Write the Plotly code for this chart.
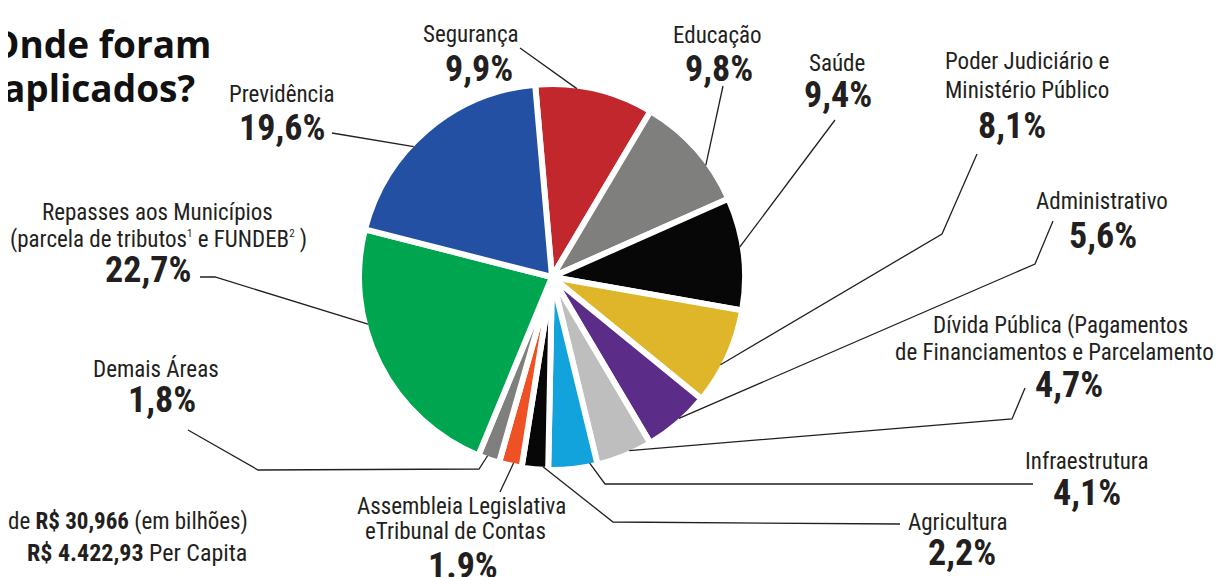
import math
import plotly.graph_objects as go

# ---------------- data ----------------
categories = [
    "Segurança", "Educação", "Saúde", "Poder Judiciário e Ministério Público",
    "Administrativo", "Dívida Pública (Pagamentos de Financiamentos e Parcelamento)",
    "Infraestrutura", "Agricultura", "Assembleia Legislativa e Tribunal de Contas",
    "Demais Áreas", "Repasses aos Municípios (parcela de tributos e FUNDEB)", "Previdência",
]
values = [9.9, 9.8, 9.4, 8.1, 5.6, 4.7, 4.1, 2.2, 1.9, 1.8, 22.7, 19.6]
pct_labels = ["9,9%", "9,8%", "9,4%", "8,1%", "5,6%", "4,7%", "4,1%", "2,2%",
              "1.9%", "1,8%", "22,7%", "19,6%"]
label_lines = [
    ["Segurança"],
    ["Educação"],
    ["Saúde"],
    ["Poder Judiciário e", "Ministério Público"],
    ["Administrativo"],
    ["Dívida Pública (Pagamentos", "de Financiamentos e Parcelamento)"],
    ["Infraestrutura"],
    ["Agricultura"],
    ["Assembleia Legislativa", "eTribunal de Contas"],
    ["Demais Áreas"],
    ["Repasses aos Municípios",
     "(parcela de tributos<sup><span style='font-size:11px'>1</span></sup> e FUNDEB<sup><span style='font-size:11px'>2</span></sup> )"],
    ["Previdência"],
]
title_lines = ["Onde foram", "aplicados?"]
total_line_1 = "de <b>R$ 30,966</b> (em bilhões)"
total_line_2 = "<b>R$ 4.422,93</b> Per Capita"

# ---------------- style / layout ----------------
colors = ["#C1272D", "#7F7F7E", "#070707", "#DFB52A", "#5B2C88", "#BEBEBE",
          "#12A3DD", "#070707", "#EE5124", "#7F7F7E", "#00A550", "#2350A3"]
OFF = 8                      # page body margin
W, H = 1222 - OFF, 577 - OFF  # figure size
CX, CY, R = 552, 277, 190     # pie centre / radius in page pixels
ROT = -5
TXT = "#231F20"
NARROW = "Roboto Condensed, Roboto, sans-serif"
NAME_SIZE = 23
PCT_SIZE = 36

# label layout (page-pixel positions of each text line's centre)
name_pos = [
    [(471, 34)], [(717, 36)], [(837, 64)],
    [(1027, 62), (1027, 91)], [(1102, 201)],
    [(1060, 325), (1058, 352)], [(1086, 461)], [(957, 522)],
    [(461, 506), (455, 531)], [(156, 369)],
    [(157, 212), (158, 239)], [(282, 94)],
]
pct_pos = [(479, 69), (719, 69), (838, 95), (1012, 126), (1103, 236), (1069, 385),
           (1087, 493), (962, 553), (463, 566), (162, 400), (148, 270), (282, 128)]
leader_pts = [
    [(520, 48)], [(723, 86)], [(835, 120)],
    [(977, 154), (942, 234)], [(1053, 221), (1035, 264)],
    [(1025, 388), (1012, 419)], [(1033, 484), (605, 484)],
    [(900, 524), (613, 522)], [(500, 492)],
    [(188, 430), (258, 470), (479, 469)], [(200, 277), (215, 277)], [(332, 133)],
]
anchor_frac = [0.35, 0.66, 0.44, 0.6, 0.44, 0.39, 0.15, 0.2, 0.38, 0.6, 0.65, 0.41]


def px(x):
    return (x - OFF) / W


def py(y):
    return 1 - (y - OFF) / H


R0 = R + 3
fig = go.Figure(go.Pie(
    labels=categories, values=values, sort=False, direction="clockwise",
    rotation=ROT, textinfo="none", hoverinfo="label+percent", showlegend=False,
    marker=dict(colors=colors, line=dict(color="white", width=6)),
    domain=dict(x=[px(CX - R0), px(CX + R0)], y=[py(CY + R0), py(CY - R0)]),
))

annotations = []
shapes = []
total = sum(values)
cum = 0.0
for i, v in enumerate(values):
    a0 = ROT + cum / total * 360
    a1 = a0 + v / total * 360
    cum += v
    a = math.radians(a0 + anchor_frac[i] * (a1 - a0))
    ax, ay = CX + R * math.sin(a), CY - R * math.cos(a)
    pts = leader_pts[i] + [(ax, ay)]
    path = "M " + " L ".join(f"{px(x):.5f},{py(y):.5f}" for x, y in pts)
    shapes.append(dict(type="path", path=path, xref="paper", yref="paper",
                       line=dict(color=TXT, width=1.3)))
    for line, (x, y) in zip(label_lines[i], name_pos[i]):
        annotations.append(dict(x=px(x), y=py(y), xref="paper", yref="paper",
                                text=line, showarrow=False, xanchor="center",
                                yanchor="middle",
                                font=dict(family=NARROW, size=NAME_SIZE, color=TXT)))
    x, y = pct_pos[i]
    annotations.append(dict(x=px(x), y=py(y), xref="paper", yref="paper",
                            text=f"<b>{pct_labels[i]}</b>", showarrow=False,
                            xanchor="center", yanchor="middle",
                            font=dict(family=NARROW, size=PCT_SIZE, color=TXT)))

# title
for line, (x, y) in zip(title_lines, [(213, 44), (197, 88)]):
    annotations.append(dict(x=px(x), y=py(y), xref="paper", yref="paper",
                            text=f"<b>{line}</b>", showarrow=False,
                            xanchor="right", yanchor="middle",
                            font=dict(family="Open Sans, Lato, sans-serif", size=37,
                                      color="#111111")))
# totals
for line, (x, y), s in zip([total_line_1, total_line_2], [(250, 521), (249, 553)], [23, 24]):
    annotations.append(dict(x=px(x), y=py(y), xref="paper", yref="paper",
                            text=line, showarrow=False, xanchor="right",
                            yanchor="middle",
                            font=dict(family=NARROW, size=s, color=TXT)))

fig.update_layout(
    width=W, height=H, margin=dict(l=0, r=0, t=0, b=0),
    paper_bgcolor="white", plot_bgcolor="white",
    annotations=annotations, shapes=shapes,
)
fig.write_html("out.html")
